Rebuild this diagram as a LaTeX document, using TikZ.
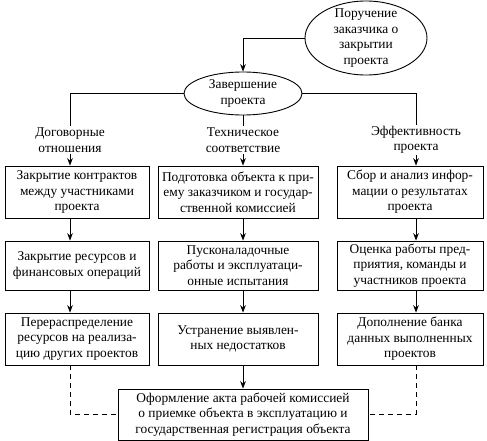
\documentclass[tikz,border=0pt]{standalone}
\usepackage{fontspec}
\setmainfont{Liberation Serif}
\usetikzlibrary{arrows.meta, shapes.geometric}

\begin{document}
\begin{tikzpicture}[
  x=1pt, y=-1pt,
  font=\fontsize{13.4}{15.5}\selectfont,
  line width=0.9pt,
  box/.style={draw, align=center, inner sep=2pt},
  oval/.style={draw, ellipse, align=center, inner sep=-8pt},
  head/.style={align=center, inner sep=1pt},
  arrow/.style={-{Stealth[length=2.6mm, width=2mm]}},
  link/.style={dash pattern=on 5pt off 4pt},
]
\useasboundingbox (0,0) rectangle (487,441);

% column axes
\coordinate (c1) at (70,0);
\coordinate (c2) at (243,0);
\coordinate (c3) at (416,0);

\node[oval, minimum width=122pt, minimum height=74pt] (order) at (366,38)
  {Поручение\\заказчика о\\закрытии\\проекта};
\node[oval, minimum width=118pt, minimum height=43pt] (fin) at (243,93.5)
  {Завершение\\проекта};

\node[head] (lab1) at (70,140) {Договорные\\отношения};
\node[head] (lab2) at (243,140) {Техническое\\соответствие};
\node[head] (lab3) at (416,140) {Эффективность\\проекта};

\node[box, minimum width=144pt, minimum height=52pt] (r1a) at (77,192)
  {Закрытие контрактов\\между участниками\\проекта};
\node[box, minimum width=160pt, minimum height=52pt] (r1b) at (238,192)
  {Подготовка объекта к при-\\ему заказчиком и государ-\\ственной комиссией};
\node[box, minimum width=146pt, minimum height=52pt] (r1c) at (410,192)
  {Сбор и анализ инфор-\\мации о результатах\\проекта};

\node[box, minimum width=144pt, minimum height=49pt] (r2a) at (77,265.5)
  {Закрытие ресурсов и\\финансовых операций};
\node[box, minimum width=160pt, minimum height=49pt] (r2b) at (238,265.5)
  {Пусконаладочные\\работы и эксплуатаци-\\онные испытания};
\node[box, minimum width=146pt, minimum height=49pt] (r2c) at (410,265.5)
  {Оценка работы пред-\\приятия, команды и\\участников проекта};

\node[box, minimum width=144pt, minimum height=52pt] (r3a) at (77,339)
  {Перераспределение\\ресурсов на реализа-\\цию других проектов};
\node[box, minimum width=160pt, minimum height=52pt] (r3b) at (238,339)
  {Устранение выявлен-\\ных недостатков};
\node[box, minimum width=146pt, minimum height=52pt] (r3c) at (410,339)
  {Дополнение банка\\данных выполненных\\проектов};

\node[box, minimum width=250pt, minimum height=51pt] (act) at (243,414.5)
  {Оформление акта рабочей комиссией\\о приемке объекта в эксплуатацию и\\государственная регистрация объекта};

\draw[arrow] (order.west) -| (fin.north);
\draw (fin.west) -| (lab1.north);
\draw (fin.south) -- (lab2.north);
\draw (fin.east) -| (lab3.north);

\draw[arrow] (lab1.south) -- (r1a.north -| c1);
\draw[arrow] (lab2.south) -- (r1b.north -| c2);
\draw[arrow] (lab3.south) -- (r1c.north -| c3);

\draw[arrow] (r1a.south -| c1) -- (r2a.north -| c1);
\draw[arrow] (r1b.south -| c2) -- (r2b.north -| c2);
\draw[arrow] (r1c.south -| c3) -- (r2c.north -| c3);

\draw[arrow] (r2a.south -| c1) -- (r3a.north -| c1);
\draw[arrow] (r2b.south -| c2) -- (r3b.north -| c2);
\draw[arrow] (r2c.south -| c3) -- (r3c.north -| c3);

\draw[arrow] (r3b.south -| c2) -- (act.north -| c2);
\draw[link] (r3a.south -| c1) |- (act.west);
\draw[link] (r3c.south -| c3) |- (act.east);
\end{tikzpicture}
\end{document}
